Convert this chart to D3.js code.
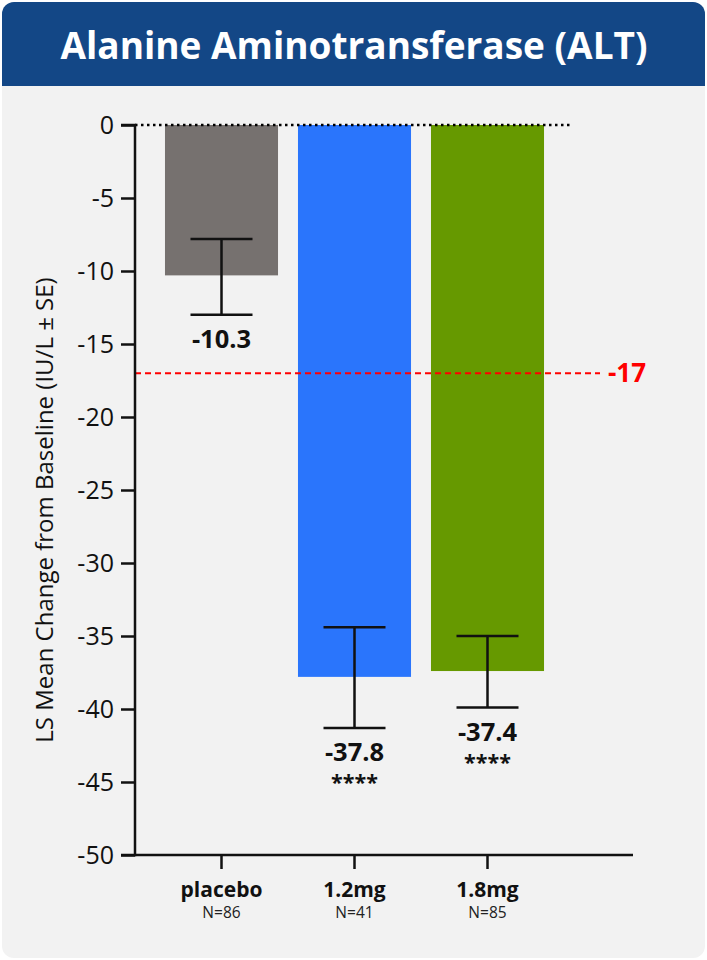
<!DOCTYPE html>
<html>
<head>
<meta charset="utf-8">
<script src="https://cdn.jsdelivr.net/npm/d3@7"></script>
<style>
  html, body { margin: 0; padding: 0; background: #ffffff; }
  svg { display: block; font-family: "Open Sans", "Noto Sans", sans-serif; }
</style>
</head>
<body>
<svg id="chart" width="707" height="960"></svg>
<script>
// Treatment groups and their least-squares mean change in ALT
const categories = ["placebo", "1.2mg", "1.8mg"];
const groupSizes = ["N=86", "N=41", "N=85"];
const meanChange = [-10.3, -37.8, -37.4];
const errorUpper = [-7.8, -34.4, -35.0];
const errorLower = [-13.0, -41.3, -39.9];
const significance = ["", "****", "****"];
const barColors = ["#76716f", "#2a75fc", "#669900"];
const yTicks = [0, -5, -10, -15, -20, -25, -30, -35, -40, -45, -50];
const referenceValue = -17;

const svg = d3.select("#chart");

// Card background and header band
svg.append("rect")
  .attr("x", 2).attr("y", 2).attr("width", 703).attr("height", 956)
  .attr("rx", 12).attr("fill", "#f2f2f2");
const headerPath = d3.path();
headerPath.moveTo(2, 86);
headerPath.lineTo(2, 14);
headerPath.arcTo(2, 2, 14, 2, 12);
headerPath.lineTo(693, 2);
headerPath.arcTo(705, 2, 705, 14, 12);
headerPath.lineTo(705, 86);
headerPath.closePath();
svg.append("path").attr("d", headerPath.toString()).attr("fill", "#134786");

svg.append("text")
  .attr("x", 354).attr("y", 59)
  .attr("text-anchor", "middle")
  .attr("fill", "#ffffff")
  .attr("font-size", 37).attr("font-weight", 700)
  .text("Alanine Aminotransferase (ALT)");

// Scales
const y = d3.scaleLinear().domain([0, -50]).range([125, 855]);
const x = d3.scaleBand().domain(categories).range([155, 554]).paddingInner(0.15).paddingOuter(0.075);
const xLeft = 135, xRight = 633;

const g = svg.append("g");

// Bars
g.selectAll("rect.bar").data(categories).join("rect")
  .attr("class", "bar")
  .attr("x", d => x(d))
  .attr("width", x.bandwidth())
  .attr("y", y(0))
  .attr("height", (d, i) => y(meanChange[i]) - y(0))
  .attr("fill", (d, i) => barColors[i]);

// Zero line (dotted)
g.append("line")
  .attr("x1", xLeft).attr("x2", 572)
  .attr("y1", y(0)).attr("y2", y(0))
  .attr("stroke", "#000").attr("stroke-width", 2.5)
  .attr("stroke-dasharray", "2.5,3.5");

// Reference line
g.append("line")
  .attr("x1", xLeft).attr("x2", 600)
  .attr("y1", y(referenceValue)).attr("y2", y(referenceValue))
  .attr("stroke", "#ff0000").attr("stroke-width", 2)
  .attr("stroke-dasharray", "6,4");
g.append("text")
  .attr("x", 608).attr("y", y(referenceValue) + 9)
  .attr("fill", "#ff0000").attr("font-size", 26).attr("font-weight", 700)
  .text(referenceValue);

// Error bars
const capHalf = 31;
categories.forEach((c, i) => {
  const cx = x(c) + x.bandwidth() / 2;
  const eb = g.append("g").attr("stroke", "#111").attr("stroke-width", 2.5);
  eb.append("line").attr("x1", cx).attr("x2", cx).attr("y1", y(errorUpper[i])).attr("y2", y(errorLower[i]));
  eb.append("line").attr("x1", cx - capHalf).attr("x2", cx + capHalf).attr("y1", y(errorUpper[i])).attr("y2", y(errorUpper[i]));
  eb.append("line").attr("x1", cx - capHalf).attr("x2", cx + capHalf).attr("y1", y(errorLower[i])).attr("y2", y(errorLower[i]));

  g.append("text")
    .attr("x", cx).attr("y", y(errorLower[i]) + 33)
    .attr("text-anchor", "middle")
    .attr("font-size", 25.5).attr("font-weight", 700).attr("fill", "#111")
    .text(meanChange[i].toFixed(1));
  if (significance[i]) {
    g.append("text")
      .attr("x", cx).attr("y", y(errorLower[i]) + 62)
      .attr("text-anchor", "middle")
      .attr("font-size", 21.5).attr("font-weight", 700).attr("fill", "#111")
      .text(significance[i]);
  }
});

// Y axis
const yAxis = d3.axisLeft(y).tickValues(yTicks).tickSize(14).tickPadding(7).tickFormat(d => String(d));
const yg = svg.append("g").attr("transform", `translate(${xLeft},0)`).call(yAxis);
yg.select(".domain").attr("stroke", "#111").attr("stroke-width", 2.5).attr("d", `M-14,${y(0)}H0V${y(-50)}H-14`);
yg.selectAll(".tick line").attr("stroke", "#111").attr("stroke-width", 2.5);
yg.selectAll(".tick text").attr("font-size", 25).attr("fill", "#111").attr("font-family", "Open Sans, sans-serif");

// X axis
const xg = svg.append("g").attr("transform", `translate(0,${y(-50)})`);
xg.append("line").attr("x1", xLeft).attr("x2", xRight).attr("y1", 0).attr("y2", 0)
  .attr("stroke", "#111").attr("stroke-width", 2.5);
categories.forEach((c, i) => {
  const cx = x(c) + x.bandwidth() / 2;
  xg.append("line").attr("x1", cx).attr("x2", cx).attr("y1", 0).attr("y2", 14)
    .attr("stroke", "#111").attr("stroke-width", 2.5);
  xg.append("text").attr("x", cx).attr("y", 42).attr("text-anchor", "middle")
    .attr("font-size", 21).attr("font-weight", 700).attr("fill", "#111").text(c);
  xg.append("text").attr("x", cx).attr("y", 63).attr("text-anchor", "middle")
    .attr("font-size", 15.5).attr("fill", "#222").text(groupSizes[i]);
});

// Y axis title
svg.append("text")
  .attr("transform", "translate(53,510) rotate(-90)")
  .attr("text-anchor", "middle")
  .attr("font-size", 24).attr("fill", "#111")
  .text("LS Mean Change from Baseline (IU/L \u00b1 SE)");
</script>
</body>
</html>
